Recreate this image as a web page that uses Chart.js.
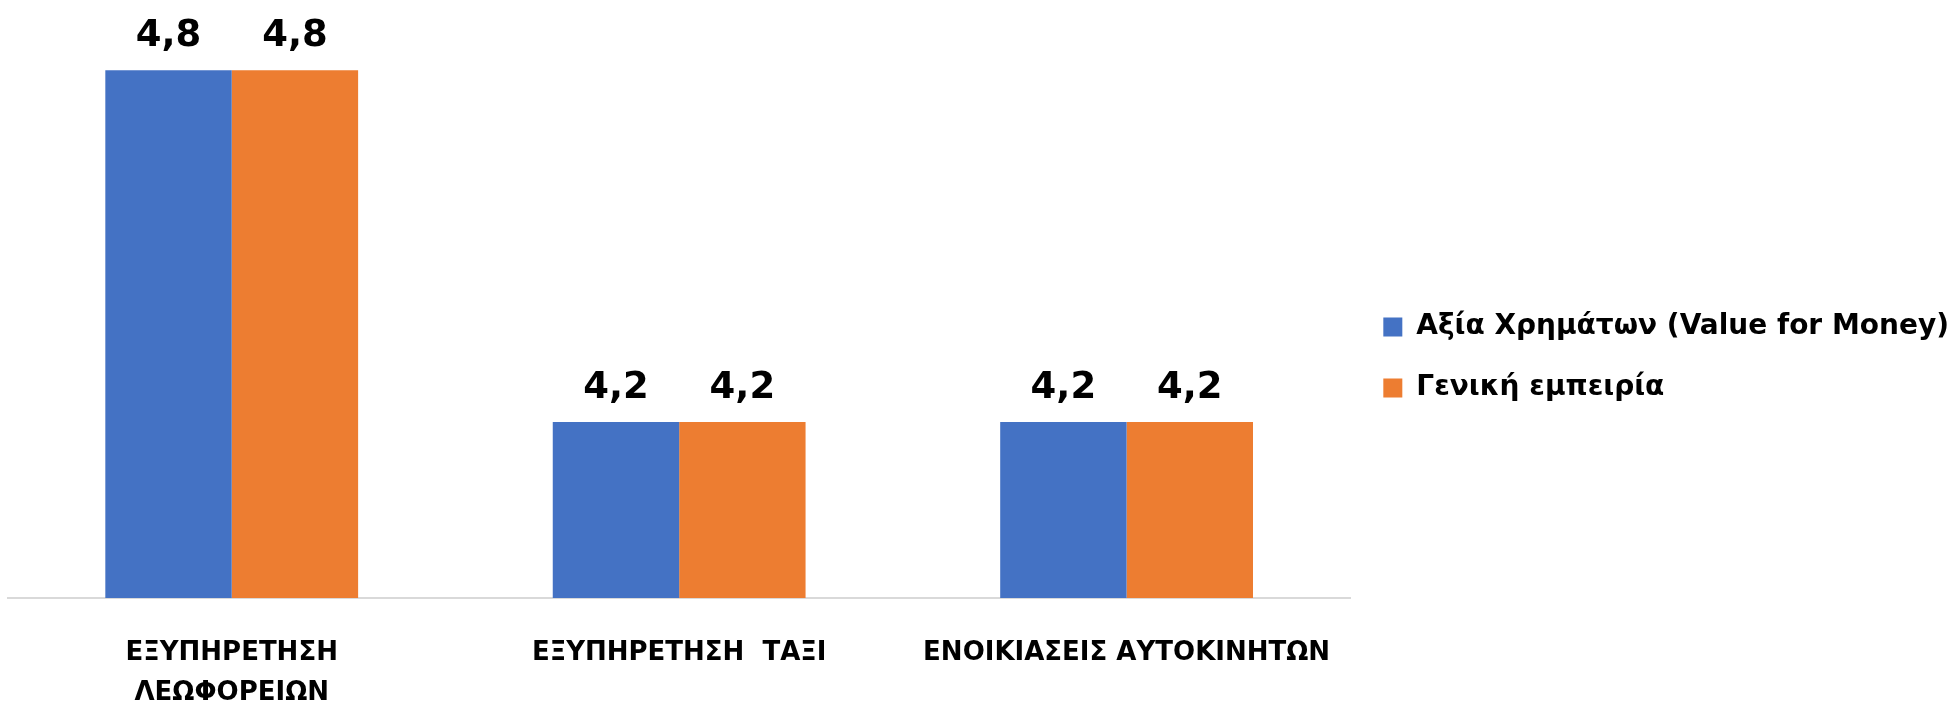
<!DOCTYPE html>
<html>
<head>
<meta charset="utf-8">
<script src="https://cdn.jsdelivr.net/npm/chart.js@4.4.1/dist/chart.umd.min.js"></script>
<style>
  html, body { margin: 0; padding: 0; background: #fff; }
  #wrap { width: 1957px; height: 704px; position: relative; }
</style>
</head>
<body>
<div id="wrap"><canvas id="chart"></canvas></div>
<script>
const categories = [
  ["ΕΞΥΠΗΡΕΤΗΣΗ", "ΛΕΩΦΟΡΕΙΩΝ"],
  "ΕΞΥΠΗΡΕΤΗΣΗ  ΤΑΞΙ",
  "ΕΝΟΙΚΙΑΣΕΙΣ ΑΥΤΟΚΙΝΗΤΩΝ"
];
const valueForMoney = [4.8, 4.2, 4.2];
const generalExperience = [4.8, 4.2, 4.2];
const seriesNames = ["Αξία Χρημάτων (Value for Money)", "Γενική εμπειρία"];

const FONT = "'DejaVu Sans', 'Noto Sans', sans-serif";

// value labels over the bars, with a decimal comma
const barLabels = {
  id: "barLabels",
  afterDatasetsDraw(chart) {
    const ctx = chart.ctx;
    ctx.save();
    ctx.font = "bold 37px " + FONT;
    ctx.fillStyle = "#000";
    ctx.textAlign = "center";
    ctx.textBaseline = "alphabetic";
    chart.data.datasets.forEach((ds, i) => {
      chart.getDatasetMeta(i).data.forEach((bar, j) => {
        const txt = ds.data[j].toFixed(1).replace(".", ",");
        ctx.fillText(txt, bar.x, bar.y - 24);
      });
    });
    ctx.restore();
  }
};

new Chart(document.getElementById("chart"), {
  type: "bar",
  data: {
    labels: categories,
    datasets: [
      { label: seriesNames[0], data: valueForMoney, backgroundColor: "#4472C4" },
      { label: seriesNames[1], data: generalExperience, backgroundColor: "#ED7D31" }
    ]
  },
  options: {
    responsive: true,
    maintainAspectRatio: false,
    animation: false,
    layout: { padding: { left: 8, top: -33, bottom: -44, right: -2 } },
    datasets: { bar: { categoryPercentage: 0.565, barPercentage: 1.0 } },
    scales: {
      x: {
        grid: { display: false, drawTicks: false },
        border: { display: true, color: "#D9D9D9", width: 2 },
        ticks: {
          color: "#000",
          padding: 35,
          maxRotation: 0,
          autoSkip: false,
          font: { family: FONT, size: 26, weight: "bold", lineHeight: 1.54 }
        }
      },
      y: {
        display: false,
        min: 3.9,
        max: 4.92
      }
    },
    plugins: {
      tooltip: { enabled: false },
      legend: {
        position: "right",
        align: "center",
        labels: {
          boxWidth: 19,
          boxHeight: 19,
          padding: 33,
          color: "#000",
          font: { family: FONT, size: 28, weight: "bold" }
        }
      }
    }
  },
  plugins: [barLabels]
});
</script>
</body>
</html>
